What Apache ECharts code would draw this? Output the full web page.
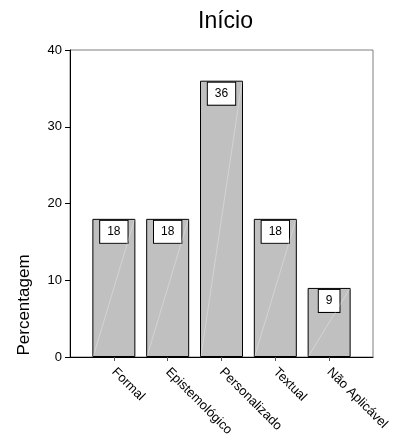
<!DOCTYPE html>
<html>
<head>
<meta charset="utf-8">
<script src="https://cdn.jsdelivr.net/npm/echarts@6/dist/echarts.min.js"></script>
<style>
  html, body { margin: 0; padding: 0; background: #fff; }
  #chart { width: 397px; height: 436px; }
</style>
</head>
<body>
<div id="chart"></div>
<script>
// Categories and their percentages
const categories = ['Formal', 'Epistemológico', 'Personalizado', 'Textual', 'Não Aplicável'];
const percentages = [18, 18, 36, 18, 9];
const yTicks = [0, 10, 20, 30, 40];

const FONT = '"Liberation Sans", Arial, sans-serif';
const positions = categories.map((_, i) => i);
const barData = percentages.map((v, i) => [i, v]);

const chart = echarts.init(document.getElementById('chart'), null, { renderer: 'canvas' });

chart.setOption({
  animation: false,
  backgroundColor: '#fff',
  title: {
    text: 'Início',
    left: 193,
    top: 5,
    textStyle: { fontFamily: FONT, fontSize: 23, fontWeight: 'normal', color: '#000' }
  },
  grid: {
    left: 70, right: 24, top: 50, bottom: 79,
    outerBoundsMode: 'none',
    containLabel: false,
    show: true, borderColor: '#7f7f7f', borderWidth: 1, backgroundColor: 'transparent'
  },
  graphic: [{
    type: 'text',
    x: 24.5, y: 305,
    rotation: Math.PI / 2,
    style: {
      text: 'Percentagem',
      font: '17px ' + FONT,
      fill: '#000',
      align: 'center',
      verticalAlign: 'middle'
    }
  }],
  xAxis: {
    type: 'value',
    min: -0.815,
    max: 4.815,
    splitLine: { show: false },
    axisLine: { show: true, onZero: false, lineStyle: { color: '#000', width: 1 } },
    axisTick: { show: true, customValues: positions, length: 4, lineStyle: { color: '#555' } },
    axisLabel: {
      customValues: positions,
      rotate: -45,
      margin: 13,
      fontFamily: FONT, fontSize: 13, color: '#000',
      formatter: v => categories[Math.round(v)]
    }
  },
  yAxis: {
    type: 'value',
    min: 0, max: 40, interval: 10,
    splitLine: { show: false },
    axisLine: { show: true, onZero: false, lineStyle: { color: '#000', width: 1 } },
    axisTick: { show: true, length: 5, lineStyle: { color: '#000' } },
    axisLabel: { margin: 8, fontFamily: FONT, fontSize: 13, color: '#000',
      formatter: v => (yTicks.includes(v) ? String(v) : '') }
  },
  series: [
    {
      type: 'bar',
      z: 2,
      data: barData,
      barWidth: 43,
      itemStyle: { color: '#c0c0c0', borderColor: '#000', borderWidth: 1 },
      label: {
        show: true,
        position: 'insideTop',
        distance: 2,
        formatter: p => String(p.value[1]),
        fontFamily: FONT, fontSize: 12, color: '#000',
        lineHeight: 14,
        backgroundColor: '#fff',
        borderColor: '#000', borderWidth: 1,
        padding: [4, 7, 4, 7]
      }
    },
    {
      // faint diagonal sheen across each bar
      type: 'custom',
      z: 3,
      data: barData,
      silent: true,
      renderItem: (params, api) => {
        const i = api.value(0), v = api.value(1);
        const base = api.coord([i, 0]);
        const top = api.coord([i, v]);
        return {
          type: 'line',
          shape: { x1: base[0] - 20.5, y1: base[1] - 1, x2: base[0] + 20.5, y2: top[1] + 1 },
          style: { stroke: 'rgba(255,255,255,0.3)', lineWidth: 1 }
        };
      }
    }
  ]
});
</script>
</body>
</html>
